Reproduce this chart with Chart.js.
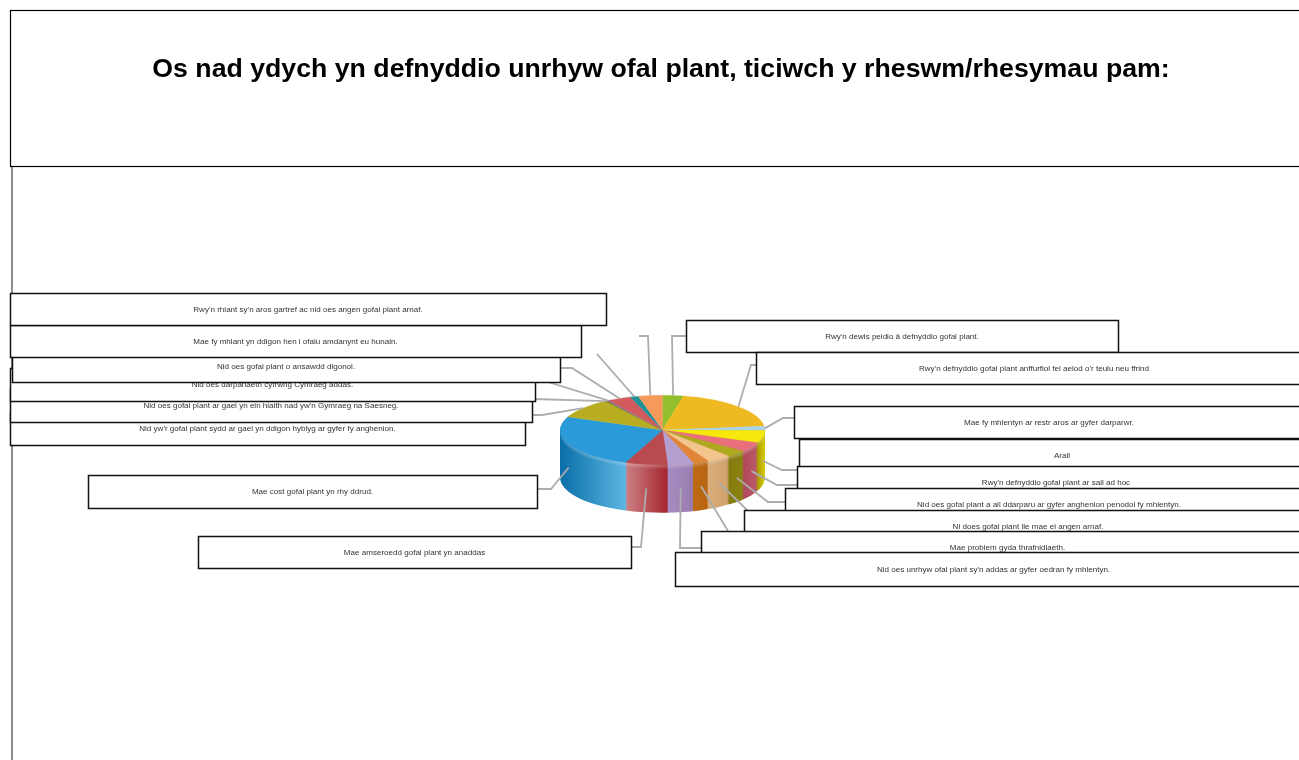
<!DOCTYPE html>
<html lang="cy">
<head>
<meta charset="utf-8">
<title>Gofal plant</title>
<script src="https://cdn.jsdelivr.net/npm/chart.js"></script>
<style>
    html, body { margin: 0; padding: 0; background: #fff; overflow: hidden; }
    canvas { display: block; }
</style>
</head>
<body>
<canvas id="careChart" width="1299" height="760"></canvas>
<script>
const chartTitle = "Os nad ydych yn defnyddio unrhyw ofal plant, ticiwch y rheswm/rhesymau pam:";

const reasons = [
    "Rwy'n dewis peidio â defnyddio gofal plant.",
    "Rwy'n defnyddio gofal plant anffurfiol fel aelod o'r teulu neu ffrind",
    "Mae fy mhlentyn ar restr aros ar gyfer darparwr.",
    "Arall",
    "Rwy'n defnyddio gofal plant ar sail ad hoc",
    "Nid oes gofal plant a all ddarparu ar gyfer anghenion penodol fy mhlentyn.",
    "Ni does gofal plant lle mae ei angen arnaf.",
    "Mae problem gyda thrafnidiaeth.",
    "Nid oes unrhyw ofal plant sy'n addas ar gyfer oedran fy mhlentyn.",
    "Mae amseroedd gofal plant yn anaddas",
    "Mae cost gofal plant yn rhy ddrud.",
    "Nid yw'r gofal plant sydd ar gael yn ddigon hyblyg ar gyfer fy anghenion.",
    "Nid oes gofal plant ar gael yn ein hiaith nad yw'n Gymraeg na Saesneg.",
    "Nid oes darpariaeth cyfrwng Cymraeg addas.",
    "Nid oes gofal plant o ansawdd digonol.",
    "Mae fy mhlant yn ddigon hen i ofalu amdanynt eu hunain.",
    "Rwy'n rhiant sy'n aros gartref ac nid oes angen gofal plant arnaf."
];

// share of answers in %
const shares = [3.3, 20, 1.9, 5.8, 4.4, 3.3, 3.9, 2.5, 4.1, 6.7, 25.3, 9.2, 0.5, 0.4, 3.6, 1.3, 3.8];

// top face colours, then the darker colours for the wall [left, right]
const topColors = ["#93bf2c", "#efb921", "#a5d3ea", "#f5e80a", "#e8707c", "#b0a81e", "#f3c48c", "#e0853a",
    "#b39fd0", "#b84a50", "#2a9ad8", "#b8ad20", "#8a8a20", "#8a5a98", "#d25a5c", "#1f8f98", "#f59a5a"];
const wallColors = {
    2: ["#cfc400", "#cfc400"], 3: ["#a89c00", "#d8cc10"], 4: ["#b04a5c", "#bb5a68"], 5: ["#857c10", "#8a8210"],
    6: ["#d8ae7c", "#cfa06c"], 7: ["#bd6a14", "#b96410"], 8: ["#a58cc0", "#9a7db0"], 9: ["#cc8286", "#a6242c"],
    10: ["#0a6ea8", "#5cb6e2"]
};

// callout boxes [x, y, w, h], same order as reasons
const calloutBoxes = [
    [686, 320, 432, 32], [756, 352, 556, 32], [794, 406, 510, 32], [799, 439, 526, 32], [797, 466, 518, 32],
    [785, 488, 528, 32], [744, 510, 568, 32], [701, 531, 613, 32], [675, 552, 637, 34], [198, 536, 433, 32],
    [88, 475, 449, 33], [10, 412, 515, 33], [10, 389, 522, 33], [10, 368, 525, 33], [12, 350, 548, 32],
    [10, 325, 571, 32], [10, 293, 596, 32]
];

// where each leader line goes after it leaves the pie
const leaderBends = [
    [[672, 336], [686, 336]], [[751, 365], [757, 365]], [[783, 418], [794, 418]], [[782, 470], [799, 470]],
    [[777, 485], [797, 485]], [[768, 502], [785, 502]], [[745, 508], [750, 513]], [[728, 531]],
    [[680, 548], [701, 548]], [[641, 547], [631, 547]], [[551, 489], [537, 489]], [[542, 415], [525, 415]],
    [[532, 399]], [[535, 378]], [[572, 368], [560, 368]], [[597, 354]], [[648, 336], [639, 336]]
];

const pieCenter = { x: 662.5, y: 430 };
const pieRadius = 102.5;
const pieSquash = 0.34;
const pieDepth = 48;

const frontOf = (arc) => {
    // angles of the arc that lie on the front half, canvas angle 0 is 3 o'clock
    const a = Math.max(arc.startAngle, 0);
    const b = Math.min(arc.endAngle, Math.PI);
    return b > a ? [a, b] : null;
};

const stampArc = (arc, ctx, fill, d) => {
    const orig = arc.options;
    arc.options = Object.assign({}, orig, { backgroundColor: fill, borderWidth: 0 });
    ctx.save();
    ctx.translate(0, d / pieSquash);
    arc.draw(ctx);
    ctx.restore();
    arc.options = orig;
};

const pie3d = {
    id: 'pie3d',
    beforeDraw(chart) {
        const { ctx } = chart;
        ctx.save();
        ctx.strokeStyle = '#8c8c8c';
        ctx.lineWidth = 2;
        ctx.beginPath();
        ctx.moveTo(12, 167);
        ctx.lineTo(12, 760);
        ctx.stroke();
        ctx.strokeStyle = '#000';
        ctx.lineWidth = 1.2;
        ctx.strokeRect(10.5, 10.5, 1295, 156);
        ctx.fillStyle = '#000';
        ctx.font = 'bold 26.7px "Liberation Sans"';
        ctx.textAlign = 'center';
        ctx.textBaseline = 'middle';
        ctx.fillText(chartTitle, 661, 70);
        ctx.restore();
    },
    beforeDatasetsDraw(chart) {
        const { ctx } = chart;
        const arcs = chart.getDatasetMeta(0).data;
        ctx.save();
        ctx.translate(0, pieCenter.y);
        ctx.scale(1, pieSquash);
        ctx.translate(0, -pieCenter.y);
        // one horizontal gradient per slice that shows on the wall
        const fills = arcs.map((arc, i) => {
            const span = frontOf(arc);
            if (!span || !wallColors[i]) return null;
            const xs = [arc.x + arc.outerRadius * Math.cos(span[0]), arc.x + arc.outerRadius * Math.cos(span[1])];
            const grad = ctx.createLinearGradient(Math.min(...xs), 0, Math.max(...xs), 0);
            grad.addColorStop(0, wallColors[i][0]);
            grad.addColorStop(1, wallColors[i][1]);
            return grad;
        });
        // the wall: the front arcs stamped again, deepest row first
        for (let d = pieDepth; d >= 1; d--) {
            arcs.forEach((arc, i) => {
                if (fills[i]) stampArc(arc, ctx, fills[i], d);
            });
        }
        // soft light band just under the rim
        for (let d = 4; d >= 1; d--) {
            arcs.forEach((arc, i) => {
                if (fills[i]) stampArc(arc, ctx, 'rgba(255,255,255,0.07)', d);
            });
        }
    },
    afterDatasetsDraw(chart) {
        const { ctx } = chart;
        ctx.restore();
        const arcs = chart.getDatasetMeta(0).data;
        ctx.save();
        ctx.strokeStyle = '#adadad';
        ctx.lineWidth = 1.8;
        arcs.forEach((arc, i) => {
            const mid = (arc.startAngle + arc.endAngle) / 2;
            const sy = Math.sin(mid);
            const onWall = frontOf(arc) && sy > 0.1;
            const px = arc.x + arc.outerRadius * Math.cos(mid);
            const py = arc.y + arc.outerRadius * sy * pieSquash + (onWall ? pieDepth / 2 : 0);
            ctx.beginPath();
            ctx.moveTo(px, py);
            leaderBends[i].forEach(p => ctx.lineTo(p[0], p[1]));
            ctx.stroke();
        });
        ctx.font = '8.05px "Liberation Sans"';
        ctx.textAlign = 'center';
        ctx.textBaseline = 'middle';
        reasons.forEach((label, i) => {
            const [x, y, w, h] = calloutBoxes[i];
            ctx.fillStyle = '#fff';
            ctx.fillRect(x, y, w, h);
            ctx.strokeStyle = '#111';
            ctx.lineWidth = 1.5;
            ctx.strokeRect(x + 0.5, y + 0.5, w, h);
            ctx.fillStyle = '#333';
            ctx.fillText(label, x + w / 2, y + h / 2 + 0.5);
        });
        ctx.restore();
    }
};

document.addEventListener("DOMContentLoaded", () => {
    const W = 1299, H = 760;
    new Chart(document.getElementById('careChart').getContext('2d'), {
        type: 'pie',
        data: {
            labels: reasons,
            datasets: [{
                data: shares,
                backgroundColor: topColors,
                borderColor: topColors,
                borderWidth: 0.5
            }]
        },
        options: {
            responsive: false,
            animation: false,
            layout: {
                padding: {
                    left: pieCenter.x - pieRadius,
                    right: W - pieCenter.x - pieRadius,
                    top: pieCenter.y - pieRadius,
                    bottom: H - pieCenter.y - pieRadius
                }
            },
            plugins: {
                legend: { display: false },
                title: { display: false },
                tooltip: { enabled: false }
            }
        },
        plugins: [pie3d]
    });
});
</script>
</body>
</html>
